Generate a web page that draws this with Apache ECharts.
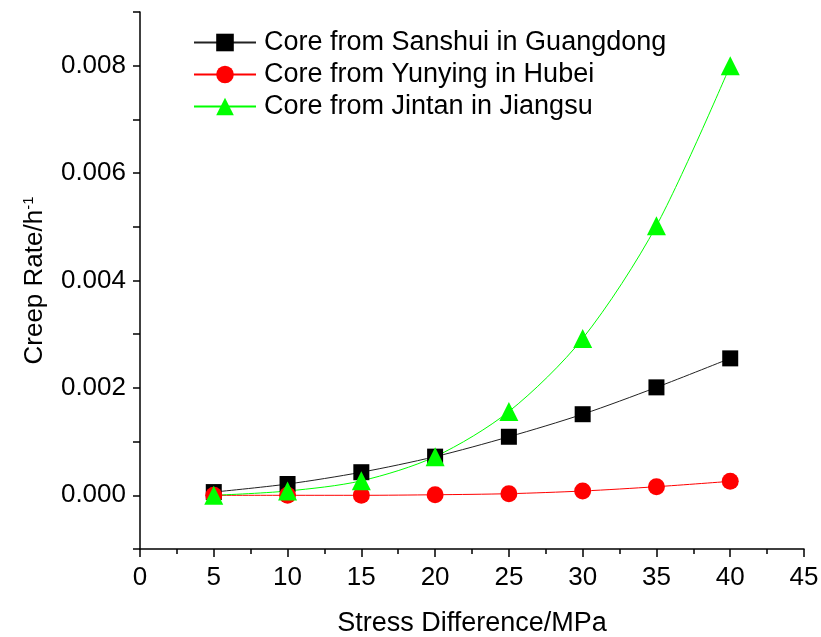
<!DOCTYPE html>
<html><head><meta charset="utf-8">
<script src="https://cdn.jsdelivr.net/npm/echarts@6/dist/echarts.min.js"></script>
<style>html,body{margin:0;padding:0;background:#fff}#c{width:821px;height:637px}</style>
</head><body><div id="c"></div>
<script>
const xValues = [5, 10, 15, 20, 25, 30, 35, 40];
const sanshui = [0.00006, 0.00021, 0.00043, 0.00072, 0.00109, 0.00151, 0.00201, 0.00255];
const yunying = [0.0, 0.0, 0.0, 0.00001, 0.00003, 0.00008, 0.00016, 0.00026];
const jintan = [0.0, 0.00008, 0.00027, 0.00072, 0.00156, 0.00292, 0.00502, 0.008];
const seriesNames = ['Core from Sanshui in Guangdong', 'Core from Yunying in Hubei', 'Core from Jintan in Jiangsu'];

const font = 'Liberation Sans, Arial, sans-serif';
const chart = echarts.init(document.getElementById('c'), null, {renderer: 'canvas'});
function pairs(arr){ return xValues.map((x,i)=>[x, arr[i]]); }
chart.setOption({
  animation: false,
  backgroundColor: '#fff',
  grid: {left: 140, right: 17, top: 12, bottom: 88, containLabel: false, outerBoundsMode: 'none'},
  legend: {
    left: 188, top: 24, orient: 'vertical', itemGap: 5, itemWidth: 62, itemHeight: 22,
    textStyle: {fontFamily: font, fontSize: 27, color: '#000', padding: [0,0,0,3]},
    data: seriesNames
  },
  xAxis: {
    type: 'value', min: 0, max: 45, interval: 5,
    name: 'Stress Difference/MPa', nameLocation: 'middle', nameGap: 61,
    nameTextStyle: {fontFamily: font, fontSize: 27, color: '#000'},
    axisLine: {onZero: false, lineStyle: {color: '#000', width: 1.5}},
    axisTick: {inside: false, length: 8, lineStyle: {color: '#000', width: 1.5}},
    minorTick: {show: true, splitNumber: 2, length: 5, lineStyle: {color: '#000', width: 1.5}},
    axisLabel: {fontFamily: font, fontSize: 26, color: '#000', margin: 16},
    splitLine: {show: false}
  },
  yAxis: {
    type: 'value', min: -0.001, max: 0.009, interval: 0.001,
    name: '{a|Creep Rate/h}{s|-1}', nameLocation: 'middle', nameGap: 92, nameRotate: 90,
    nameTextStyle: {rich: {
      a: {fontFamily: font, fontSize: 26, color: '#000'},
      s: {fontFamily: font, fontSize: 15, color: '#000', verticalAlign: 'top', padding: [0,0,12,0]}
    }},
    axisLine: {onZero: false, lineStyle: {color: '#000', width: 1.5}},
    axisTick: {length: 7, lineStyle: {color: '#000', width: 1.5}},
    axisLabel: {fontFamily: font, fontSize: 26, color: '#000', margin: 14,
      formatter: function(v){
        const k = Math.round(v/0.001);
        if (k % 2 !== 0 || k < 0 || k > 8) return '';
        return (k*0.001).toFixed(3);
      }},
    splitLine: {show: false}
  },
  series: [
    {name: seriesNames[0], type: 'line', data: pairs(sanshui), smooth: 0.3,
     symbol: 'rect', symbolSize: 16, itemStyle: {color: '#000'}, lineStyle: {color: '#222', width: 1}},
    {name: seriesNames[1], type: 'line', data: pairs(yunying), smooth: 0.3,
     symbol: 'circle', symbolSize: 17, itemStyle: {color: '#ff0000'}, lineStyle: {color: '#ff0000', width: 1}},
    {name: seriesNames[2], type: 'line', data: pairs(jintan), smooth: 0.3,
     symbol: 'triangle', symbolSize: 19, itemStyle: {color: '#00ff00'}, lineStyle: {color: '#00ff00', width: 1}}
  ]
});
</script></body></html>
